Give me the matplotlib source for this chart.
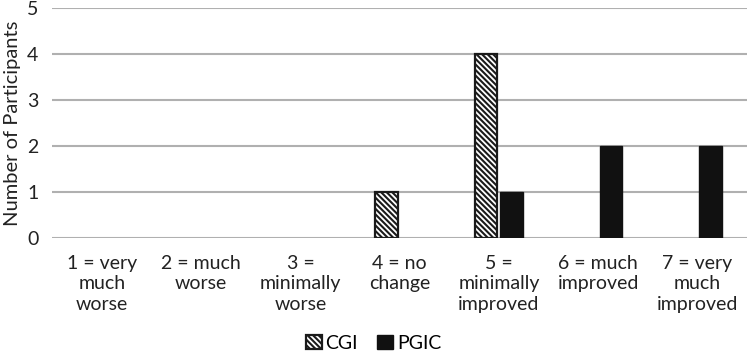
import matplotlib.pyplot as plt
import numpy as np

plt.rcParams['font.family'] = ['Lato', 'DejaVu Sans']
plt.rcParams['hatch.linewidth'] = 1.5

categories = ["1 = very\nmuch\nworse", "2 = much\nworse", "3 =\nminimally\nworse",
              "4 = no\nchange", "5 =\nminimally\nimproved", "6 = much\nimproved",
              "7 = very\nmuch\nimproved"]
cgi = [0, 0, 0, 1, 4, 0, 0]
pgic = [0, 0, 0, 0, 1, 2, 2]

fig = plt.figure(figsize=(7.47, 3.55), dpi=100)
ax = fig.add_axes([0.07, 0.33, 0.93, 0.647])

x = np.arange(len(categories))
w = 0.23
lw_cgi = [1.6 if v > 0 else 0 for v in cgi]
lw_pgic = [1.0 if v > 0 else 0 for v in pgic]
ax.bar(x - 0.13, cgi, w, color="white", edgecolor="#1a1a1a", hatch="\\\\\\\\\\\\",
       linewidth=lw_cgi, label="CGI", zorder=3)
ax.bar(x + 0.13, pgic, w, color="#111111", edgecolor="#111111",
       linewidth=lw_pgic, label="PGIC", zorder=3)

ax.set_xlim(-0.5, 6.5)
ax.set_ylim(0, 5)
ax.set_yticks(range(6))
ax.yaxis.grid(True, color="#b0b0b0", linewidth=1.5, zorder=0)
ax.set_axisbelow(True)
for s in ax.spines.values():
    s.set_visible(False)
ax.tick_params(axis="both", length=0, labelsize=14, colors="#222222")
ax.tick_params(axis="x", pad=12)
ax.tick_params(axis="y", pad=10)
ax.set_xticks(x)
ax.set_xticklabels(categories, linespacing=1.25)
ax.set_ylabel("Number of Participants", fontsize=14.5, color="#222222", labelpad=4)

handles, labels = ax.get_legend_handles_labels()
fig.legend([handles[0].patches[3], handles[1].patches[4]], labels,
           loc="lower center", bbox_to_anchor=(0.5, -0.04), ncol=2, frameon=False,
           fontsize=14, handlelength=0.8, handleheight=0.8, handletextpad=0.2,
           columnspacing=1.0)

fig.savefig("out.png", dpi=100)
